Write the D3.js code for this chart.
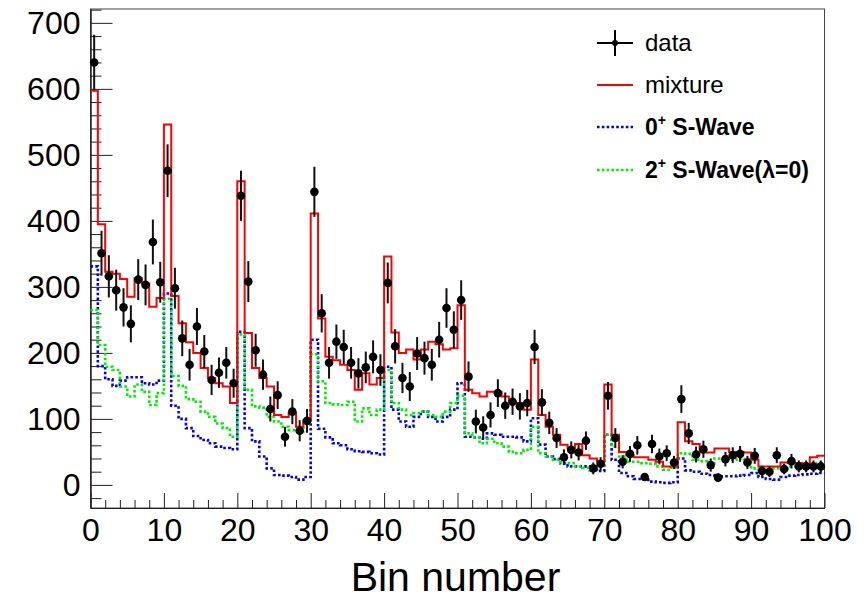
<html>
<head>
<meta charset="utf-8">
<title>Bin number</title>
<script src="https://cdn.jsdelivr.net/npm/d3@7"></script>
<style>
  body { margin: 0; background: #fff; }
  text { font-family: "Liberation Sans", Arial, Helvetica, sans-serif; }
</style>
</head>
<body>
<div id="chart"></div>
<script>
// values read per bin (bins 1..100)
const dataValues = [
  640, 351, 316, 295, 269, 244, 311, 303, 368, 307,
  476, 298, 222, 182, 240, 202, 159, 170, 185, 154,
  438, 308, 204, 167, 115, 136, 73, 111, 82, 97,
  444, 260, 185, 217, 209, 185, 169, 178, 194, 174,
  306, 210, 162, 149, 199, 192, 182, 220, 268, 235,
  280, 164, 96, 87, 106, 139, 120, 126, 119, 124,
  209, 125, 94, 71, 42, 53, 49, 67, 25, 32,
  135, 71, 35, 47, 60, 12, 62, 43, 48, 34,
  130, 78, 46, 54, 30, 11, 39, 45, 47, 34,
  44, 21, 20, 45, 24, 36, 28, 28, 28, 28
];
const dataErrors = [
  42, 34, 32, 31, 29, 28, 31, 31, 34, 31,
  40, 31, 27, 24, 28, 25, 23, 23, 24, 22,
  38, 31, 25, 23, 19, 21, 15, 19, 16, 18,
  38, 29, 24, 26, 26, 24, 23, 24, 25, 24,
  31, 26, 23, 22, 25, 25, 24, 27, 30, 28,
  30, 23, 18, 17, 19, 21, 20, 20, 20, 20,
  26, 20, 17, 15, 12, 13, 12, 14, 9, 10,
  21, 15, 10, 12, 14, 6, 14, 12, 12, 10,
  21, 16, 12, 13, 10, 6, 11, 12, 12, 10,
  12, 8, 8, 12, 8, 11, 9, 9, 9, 9
];
const mixture = [
  597, 395, 323, 320, 312, 285, 313, 305, 270, 283,
  546, 286, 245, 216, 200, 177, 162, 154, 149, 124,
  460, 230, 177, 162, 149, 106, 103, 109, 88, 98,
  411, 252, 194, 189, 182, 174, 144, 169, 152, 162,
  346, 231, 200, 205, 190, 205, 217, 213, 205, 207,
  272, 144, 139, 134, 141, 141, 134, 126, 124, 114,
  190, 106, 88, 76, 61, 56, 62, 45, 40, 35,
  152, 76, 50, 45, 42, 42, 38, 35, 28, 28,
  95, 66, 62, 49, 49, 55, 55, 50, 50, 49,
  38, 28, 28, 28, 34, 33, 33, 32, 42, 44
];
const sWave0 = [
  331, 180, 160, 150, 158, 163, 163, 154, 152, 158,
  290, 120, 100, 86, 74, 68, 63, 58, 56, 54,
  232, 86, 66, 43, 25, 15, 14, 12, 8, 12,
  220, 85, 72, 63, 60, 54, 51, 50, 48, 46,
  179, 114, 96, 88, 103, 111, 103, 96, 103, 114,
  154, 73, 72, 70, 78, 76, 73, 73, 72, 66,
  101, 61, 43, 39, 33, 28, 28, 28, 22, 21,
  76, 38, 18, 13, 9, 8, 5, 4, 3, 4,
  40, 22, 20, 17, 15, 12, 13, 13, 14, 15,
  18, 12, 9, 8, 12, 14, 15, 16, 17, 18
];
const sWave2 = [
  265, 212, 179, 174, 149, 134, 152, 141, 121, 139,
  282, 165, 150, 130, 126, 111, 103, 93, 86, 73,
  228, 144, 119, 117, 103, 96, 88, 83, 81, 94,
  198, 157, 124, 122, 121, 126, 96, 116, 106, 114,
  174, 124, 114, 106, 109, 111, 106, 103, 111, 124,
  135, 78, 72, 63, 70, 63, 58, 50, 48, 53,
  88, 48, 43, 38, 33, 33, 28, 26, 22, 28,
  76, 58, 43, 35, 35, 33, 32, 28, 23, 26,
  48, 47, 38, 36, 33, 40, 40, 38, 40, 39,
  25, 23, 21, 25, 25, 28, 29, 29, 30, 33
];
const xTicks = [0, 10, 20, 30, 40, 50, 60, 70, 80, 90, 100];
const yTicks = [0, 100, 200, 300, 400, 500, 600, 700];

const width = 867, height = 600;
const frame = {left: 90.5, right: 824.5, top: 9, bottom: 508};

const svg = d3.select("#chart").append("svg").attr("width", width).attr("height", height);

const x = d3.scaleLinear().domain([0, 100]).range([frame.left, frame.right]);
const y = d3.scaleLinear().domain([-35, 721]).range([frame.bottom, frame.top]);

// frame
svg.append("rect")
  .attr("x", frame.left).attr("y", frame.top)
  .attr("width", frame.right - frame.left).attr("height", frame.bottom - frame.top)
  .attr("fill", "none").attr("stroke", "#444").attr("stroke-width", 1);

// axes, ticks inside the frame
const minorY = d3.range(-20, 721, 20).filter(v => v % 100 !== 0);
const minorX = d3.range(0, 101, 2).filter(v => v % 10 !== 0);

svg.append("g").attr("transform", `translate(${frame.left},0)`)
  .call(d3.axisLeft(y).tickValues(minorY).tickSize(-11).tickSizeOuter(0).tickFormat(""));
svg.append("g").attr("class", "yaxis").attr("transform", `translate(${frame.left},0)`)
  .call(d3.axisLeft(y).tickValues(yTicks).tickSize(-22).tickSizeOuter(0).tickPadding(10));
svg.append("g").attr("transform", `translate(0,${frame.bottom})`)
  .call(d3.axisBottom(x).tickValues(minorX).tickSize(-8).tickSizeOuter(0).tickFormat(""));
svg.append("g").attr("class", "xaxis").attr("transform", `translate(0,${frame.bottom})`)
  .call(d3.axisBottom(x).tickValues(xTicks).tickSize(-15).tickSizeOuter(0).tickPadding(10));

svg.selectAll(".domain").attr("stroke", "#222");
svg.selectAll(".tick line").attr("stroke", "#222");
svg.selectAll(".yaxis text, .xaxis text")
  .attr("font-size", "32px").attr("fill", "#000")
  .style("font-family", "'Liberation Sans', Arial, sans-serif");

svg.append("text")
  .attr("x", (frame.left + frame.right) / 2 - 2).attr("y", 591)
  .attr("text-anchor", "middle").attr("font-size", "41px")
  .text("Bin number");

// step histograms
function stepPoints(values) {
  const pts = values.map((v, i) => [i, v]);
  pts.push([values.length, values[values.length - 1]]);
  return pts;
}
const stepLine = d3.line().x(d => x(d[0])).y(d => y(d[1])).curve(d3.curveStepAfter);

const plot = svg.append("g");
plot.append("path").datum(stepPoints(sWave0))
  .attr("fill", "none").attr("stroke", "#0000ff").attr("stroke-width", 2.6)
  .attr("stroke-dasharray", "2.6,2.2").attr("d", stepLine);
plot.append("path").datum(stepPoints(sWave2))
  .attr("fill", "none").attr("stroke", "#00ee00").attr("stroke-width", 2.6)
  .attr("stroke-dasharray", "2.6,2.2").attr("d", stepLine);
plot.append("path").datum(stepPoints(mixture))
  .attr("fill", "none").attr("stroke", "#ff0000").attr("stroke-width", 2).attr("d", stepLine);

// data points with errors
const pts = plot.selectAll(".pt").data(dataValues).join("g").attr("class", "pt");
pts.append("line")
  .attr("x1", (d, i) => x(i + 0.5)).attr("x2", (d, i) => x(i + 0.5))
  .attr("y1", (d, i) => y(d - dataErrors[i])).attr("y2", (d, i) => y(d + dataErrors[i]))
  .attr("stroke", "#111").attr("stroke-width", 2);
pts.append("circle")
  .attr("cx", (d, i) => x(i + 0.5)).attr("cy", d => y(d))
  .attr("r", 4.3).attr("fill", "#000");

// legend
const legend = svg.append("g");
const lx1 = 597, lx2 = 633, tx = 645;
const rowY = [43, 85, 127, 170];

legend.append("line").attr("x1", lx1).attr("x2", lx2).attr("y1", rowY[0]).attr("y2", rowY[0])
  .attr("stroke", "#000").attr("stroke-width", 2);
legend.append("line").attr("x1", (lx1 + lx2) / 2).attr("x2", (lx1 + lx2) / 2)
  .attr("y1", rowY[0] - 13).attr("y2", rowY[0] + 13).attr("stroke", "#000").attr("stroke-width", 2);
legend.append("circle").attr("cx", (lx1 + lx2) / 2).attr("cy", rowY[0]).attr("r", 3).attr("fill", "#000");
legend.append("line").attr("x1", lx1).attr("x2", lx2).attr("y1", rowY[1]).attr("y2", rowY[1])
  .attr("stroke", "#ff0000").attr("stroke-width", 2);
legend.append("line").attr("x1", lx1).attr("x2", lx2).attr("y1", rowY[2]).attr("y2", rowY[2])
  .attr("stroke", "#0000ff").attr("stroke-width", 2.6).attr("stroke-dasharray", "2.6,2.2");
legend.append("line").attr("x1", lx1).attr("x2", lx2).attr("y1", rowY[3]).attr("y2", rowY[3])
  .attr("stroke", "#00ee00").attr("stroke-width", 2.6).attr("stroke-dasharray", "2.6,2.2");

legend.append("text").attr("x", tx).attr("y", rowY[0]).attr("dy", "0.35em")
  .attr("font-size", "24px").text("data");
legend.append("text").attr("x", tx).attr("y", rowY[1]).attr("dy", "0.35em")
  .attr("font-size", "24px").text("mixture");

const t0 = legend.append("text").attr("x", tx).attr("y", rowY[2]).attr("dy", "0.35em")
  .attr("font-size", "23px").attr("font-weight", "bold");
t0.append("tspan").text("0");
t0.append("tspan").attr("font-size", "14px").attr("dy", "-0.75em").text("+");
t0.append("tspan").attr("dy", "0.45em").text(" S-Wave");

const t2 = legend.append("text").attr("x", tx).attr("y", rowY[3]).attr("dy", "0.35em")
  .attr("font-size", "23px").attr("font-weight", "bold");
t2.append("tspan").text("2");
t2.append("tspan").attr("font-size", "14px").attr("dy", "-0.75em").text("+");
t2.append("tspan").attr("dy", "0.45em").text(" S-Wave(λ=0)");
</script>
</body>
</html>
